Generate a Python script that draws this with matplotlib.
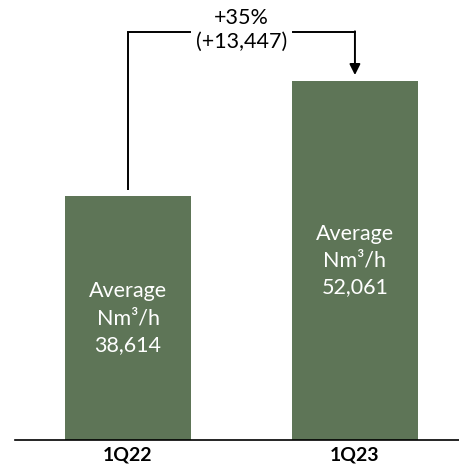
import numpy as np
import matplotlib
matplotlib.use("Agg")
import matplotlib.pyplot as plt

# data
periods = ["1Q22", "1Q23"]
avg_flow = [38614, 52061]
bar_caption = "Average\nNm\u00b3/h"

plt.rcParams['font.family'] = ['Lato', 'DejaVu Sans']

bar_color = "#5E7557"
y_min, y_max = 10000, 61600

fig = plt.figure(figsize=(4.6, 4.72), dpi=100)
ax = fig.add_axes([15 / 460, 32 / 472, 445 / 460, 440 / 472])

x = np.arange(len(periods))
ax.bar(x, avg_flow, width=0.555, color=bar_color, bottom=0)
ax.set_ylim(y_min, y_max)
ax.set_xlim(-0.498, 1.463)

# labels inside the bars
for xi, v in zip(x, avg_flow):
    ax.text(xi, (y_min + v) / 2, bar_caption + "\n" + f"{v:,}",
            ha="center", va="center", color="white", fontsize=15.5, linespacing=1.42)

# growth bracket
diff = avg_flow[1] - avg_flow[0]
pct = round(diff / avg_flow[0] * 100)
y_br = 57850
ax.plot([0, 0], [avg_flow[0] + 700, y_br], color="black", lw=1.4, solid_capstyle="butt")
ax.plot([0, 0.273], [y_br, y_br], color="black", lw=1.4)
ax.plot([0.727, 1.0], [y_br, y_br], color="black", lw=1.4)
ax.annotate("", xy=(1.0, 52800), xytext=(1.0, y_br + 80),
            arrowprops=dict(arrowstyle="-|>", color="black", lw=1.4,
                            mutation_scale=16, shrinkA=0, shrinkB=0))
ax.text(0.5, 59500, f"+{pct}%", ha="center", va="center", fontsize=15.5)
ax.text(0.5, 56650, f"(+{diff:,})", ha="center", va="center", fontsize=15.5)

# axes styling
for s in ["top", "right", "left"]:
    ax.spines[s].set_visible(False)
ax.spines["bottom"].set_linewidth(1.2)
ax.set_yticks([])
ax.set_xticks(x)
ax.set_xticklabels(periods, fontsize=14, fontweight="bold")
ax.tick_params(axis="x", length=0, pad=5)

fig.savefig("out.png", dpi=100)
